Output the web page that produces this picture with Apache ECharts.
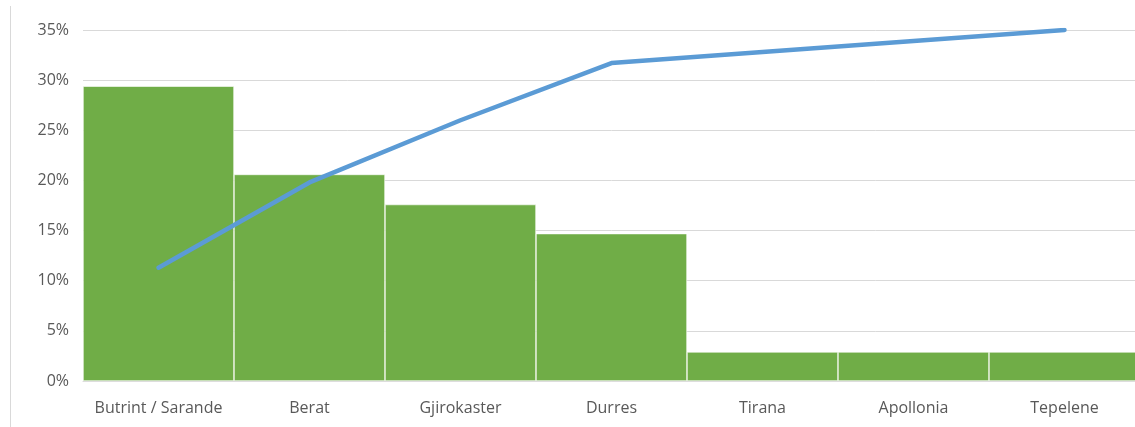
<!DOCTYPE html>
<html>
<head>
<meta charset="utf-8">
<script src="https://cdn.jsdelivr.net/npm/echarts@6/dist/echarts.min.js"></script>
<style>
html,body{margin:0;padding:0;background:#fff;overflow:hidden;}
#chart{width:1140px;height:427px;}
</style>
</head>
<body>
<div id="chart"></div>
<script>
const categories = ['Butrint / Sarande', 'Berat', 'Gjirokaster', 'Durres', 'Tirana', 'Apollonia', 'Tepelene'];
const barValues = [29.4, 20.6, 17.6, 14.7, 2.9, 2.9, 2.9];
const lineValues = [11.3, 19.8, 26.0, 31.7, 32.8, 33.9, 35.0];
const yTicks = { min: 0, max: 35, interval: 5 };

const chart = echarts.init(document.getElementById('chart'), null, { renderer: 'canvas' });
chart.setOption({
  animation: false,
  backgroundColor: '#fff',
  textStyle: { fontFamily: 'Open Sans' },
  graphic: [{
    type: 'line',
    shape: { x1: 10.5, y1: 6, x2: 10.5, y2: 427 },
    style: { stroke: '#d9d9d9', lineWidth: 1 }
  }],
  grid: { left: 83, right: 0, top: 30, bottom: 46 },
  xAxis: {
    type: 'category',
    data: categories,
    axisLine: { show: true, lineStyle: { color: '#d9d9d9', width: 1 } },
    axisTick: { show: false },
    axisLabel: { color: '#595959', fontSize: 16, margin: 19, interval: 0, fontFamily: 'Open Sans' }
  },
  yAxis: {
    type: 'value',
    min: yTicks.min, max: yTicks.max, interval: yTicks.interval,
    axisLine: { show: false },
    axisTick: { show: false },
    splitLine: { lineStyle: { color: '#d9d9d9', width: 1 } },
    axisLabel: { color: '#595959', fontSize: 16, margin: 14, formatter: '{value}%', fontFamily: 'Open Sans' }
  },
  series: [
    {
      type: 'bar',
      data: barValues,
      barCategoryGap: '0%',
      itemStyle: { color: '#70AD47', borderColor: '#ffffff', borderWidth: 0.6 },
      z: 2
    },
    {
      type: 'line',
      data: lineValues,
      showSymbol: false,
      symbol: 'none',
      lineStyle: { color: '#5B9BD5', width: 4.5, cap: 'round', join: 'round' },
      z: 3
    }
  ]
});
</script>
</body>
</html>
